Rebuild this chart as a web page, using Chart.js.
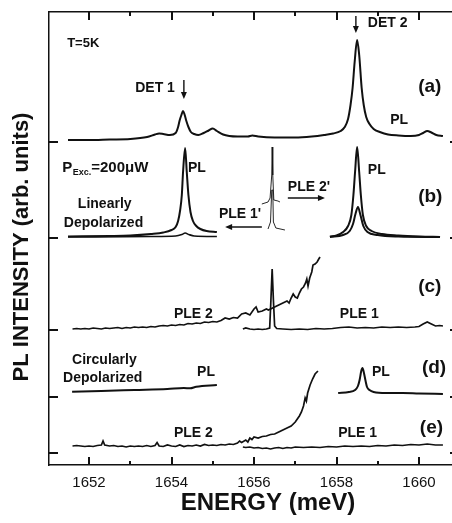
<!DOCTYPE html>
<html><head><meta charset="utf-8">
<script src="https://cdn.jsdelivr.net/npm/chart.js@4.4.1/dist/chart.umd.min.js"></script>
<style>html,body{margin:0;padding:0;background:#fff}#wrap{width:452px;height:523px}</style>
</head><body><div id="wrap"><canvas id="c" width="452" height="523"></canvas></div>
<script>
// ---------- axis ----------
const xTickLabels = [1652, 1654, 1656, 1658, 1660];
const xMinorTicks = [1653, 1655, 1657, 1659];
const xTitle = 'ENERGY (meV)';
const yTitle = 'PL INTENSITY (arb. units)';
// vertical offset (arb. units) of each stacked panel a..e
const panelOffsets = [323, 227, 135, 68, 12];

// ---------- (a) PL ----------
const aPL_E = [1651.49,1652.0,1652.5,1653.0,1653.41,1653.6,1653.7,1653.8,1653.96,1654.1,1654.16,1654.2,1654.24,1654.28,1654.32,1654.36,1654.41,1654.47,1654.55,1654.65,1654.78,1654.9,1655.0,1655.1,1655.25,1655.4,1655.6,1655.85,1655.96,1656.1,1656.5,1657.0,1657.4,1657.7,1657.92,1658.1,1658.2,1658.28,1658.34,1658.39,1658.44,1658.5,1658.55,1658.61,1658.66,1658.72,1658.8,1658.9,1659.05,1659.25,1659.5,1659.8,1660.0,1660.1,1660.2,1660.3,1660.42,1660.58];
const aPL_I = [2,2,2.5,3,5,7.5,8.5,8,7,9,15,22,27,31,27,21,15,10,8,7,9,11.5,13.5,11,7.5,6,5.5,5.5,6.5,5.5,4.5,4.5,5.5,7,8.5,11,15,23,37,54,80,102,87,54,37,25,18,13,10,7.5,6.5,6,7,9,11,9.5,7,6];

// ---------- (b) linearly depolarized ----------
const bPL1_E = [1651.49,1652.5,1653.0,1653.5,1653.8,1654.0,1654.1,1654.16,1654.21,1654.25,1654.28,1654.33,1654.37,1654.41,1654.46,1654.52,1654.6,1654.7,1654.85,1655.1];
const bPL1_I = [1.5,2,2.5,4,5.5,8,11,17,28,43,66,90,66,43,26,17,12,9,7,6];
const bPLE1_E = [1651.49,1653.5,1654.1,1654.25,1654.33,1654.42,1654.55,1655.1];
const bPLE1_I = [1,1.5,2,3.5,5,3.5,2,1.5];
const bLaserA_E = [1656.19,1656.34,1656.39,1656.43,1656.44,1656.455,1656.48,1656.58,1656.63];
const bLaserA_I = [34,36,40,63,91,63,38,37,36];
const bLaserB_E = [1656.34,1656.40,1656.43,1656.455,1656.47,1656.53,1656.75];
const bLaserB_I = [9,16,48,48,16,10,8];
const bPL2_E = [1657.84,1658.0,1658.16,1658.28,1658.36,1658.41,1658.45,1658.5,1658.55,1658.59,1658.64,1658.72,1658.85,1659.1,1659.5,1660.0,1660.51];
const bPL2_I = [1.5,2.5,6,12,23,43,66,91,66,43,23,12,7,4,2.5,1.5,1];
const bPLE2_E = [1657.84,1658.16,1658.32,1658.4,1658.46,1658.52,1658.58,1658.65,1658.75,1659.0,1659.5,1660.51];
const bPLE2_I = [1,3,7,14,24,31,23,12,6,3,1.5,1];

// ---------- (c) PLE ----------
const cPLE2_E = [1651.6,1651.7,1651.8,1651.9,1652.0,1652.1,1652.2,1652.3,1652.4,1652.5,1652.6,1652.7,1652.8,1652.9,1653.0,1653.1,1653.2,1653.3,1653.4,1653.5,1653.6,1653.7,1653.8,1653.9,1654.0,1654.1,1654.2,1654.3,1654.4,1654.5,1654.6,1654.7,1654.8,1654.9,1655.0,1655.1,1655.2,1655.3,1655.4,1655.5,1655.6,1655.7,1655.8,1655.9,1656.0,1656.05,1656.1,1656.2,1656.3,1656.35,1656.5,1656.6,1656.7,1656.8,1656.85,1656.9,1656.95,1657.0,1657.05,1657.1,1657.15,1657.2,1657.25,1657.28,1657.31,1657.35,1657.4,1657.43,1657.48,1657.53,1657.57,1657.6];
const cPLE2_I = [1,1.5,1,1.5,1,2,1.5,1,2,1.5,2,2.5,1.5,2.5,2,3,2.5,3,2.5,3.5,3,4,4.5,4,5,4.5,5.5,5,6.5,6,7,6.5,8,7.5,8.5,8,9.5,12,11,12.5,12,16,17,15,21,23,18,19,21,20,23,25,27,29,27,32,36,33,32,37,41,43,47,51,44,52,58,65,66,68,71,73];
const cPLE1_E = [1655.73,1655.8,1655.9,1656.0,1656.1,1656.2,1656.3,1656.38,1656.41,1656.44,1656.47,1656.5,1656.55,1656.7,1656.9,1657.1,1657.3,1657.5,1657.7,1657.9,1658.1,1658.3,1658.5,1658.7,1658.9,1659.1,1659.3,1659.5,1659.7,1659.9,1660.0,1660.1,1660.2,1660.3,1660.4,1660.5,1660.58];
const cPLE1_I = [1,2,1,0.5,1,0.5,1,2,30,61,30,4,1.5,1,0.5,1,0.5,1.5,1,1.5,2.5,3,2,2.5,2,3,2.5,3,2.5,3,3.5,6,8,6,4,4.5,4];

// ---------- (d) circularly depolarized ----------
const dPL1_E = [1651.59,1652.3,1653.1,1653.9,1654.3,1654.45,1654.6,1655.1];
const dPL1_I = [5.3,6,7,8,9,8.7,10.3,12];
const dPL2_E = [1658.04,1658.3,1658.45,1658.52,1658.56,1658.6,1658.63,1658.66,1658.7,1658.74,1658.8,1658.9,1659.2,1659.6,1660.0,1660.58];
const dPL2_I = [4,5,7,11,17,26,29,25,17,10,7,5,4,4,3.5,3];

// ---------- (e) PLE ----------
const ePLE2_E = [1651.6,1651.7,1651.8,1651.9,1652.0,1652.1,1652.2,1652.3,1652.34,1652.38,1652.5,1652.6,1652.7,1652.8,1652.9,1653.0,1653.1,1653.2,1653.3,1653.4,1653.5,1653.6,1653.65,1653.7,1653.8,1653.9,1654.0,1654.1,1654.2,1654.3,1654.4,1654.5,1654.6,1654.7,1654.8,1654.9,1655.0,1655.1,1655.2,1655.3,1655.4,1655.5,1655.6,1655.65,1655.7,1655.8,1655.85,1655.9,1655.95,1656.0,1656.1,1656.2,1656.3,1656.4,1656.5,1656.6,1656.7,1656.8,1656.9,1657.0,1657.05,1657.1,1657.15,1657.2,1657.24,1657.27,1657.3,1657.36,1657.42,1657.48,1657.55];
const ePLE2_I = [7,7.5,7,6.5,7,6.5,7.5,8,12,8,7,7.5,6.5,7,6,7,6.5,7,6.5,7.5,6.5,7.5,10.5,7,6.5,8,7,6.5,8,6.5,7.5,7,8,7,8.5,7.5,8,7.5,8.5,8,9,8.5,10,12,10.5,13,11,15,13.5,16,15,16.5,17,18.5,19,21,23,25,27,31,34,37,41,47,55,52,60,68,74,79,82];
const ePLE1_E = [1655.73,1655.8,1655.9,1656.0,1656.1,1656.2,1656.3,1656.4,1656.5,1656.6,1656.7,1656.8,1656.9,1657.0,1657.2,1657.4,1657.6,1657.8,1658.0,1658.2,1658.4,1658.6,1658.8,1659.0,1659.2,1659.4,1659.6,1659.8,1660.0,1660.2,1660.4,1660.58];
const ePLE1_I = [6,5.5,6,5,5.5,4.5,5,4,5,5.5,4.5,5.5,5,6,5.5,6,5.5,6.5,6,7,6.5,7,6.5,7.5,7,8,7.5,8.5,8,9,8,8];

// ---------- text annotations (energy, arb. units) ----------
const notes = [
  {t:'T=5K', x:1651.47, y:422, s:13},
  {t:'DET 1', x:1653.12, y:377, s:14},
  {t:'DET 2', x:1658.76, y:442, s:14},
  {t:'(a)', x:1659.98, y:378, s:19},
  {t:'PL', x:1659.30, y:345, s:14},
  {t:'PL', x:1654.40, y:297, s:14},
  {t:'PL', x:1658.76, y:295, s:14},
  {t:"PLE 2'", x:1656.82, y:278, s:14},
  {t:'(b)', x:1659.98, y:268, s:19},
  {t:'Linearly', x:1651.73, y:261, s:14},
  {t:'Depolarized', x:1651.39, y:242, s:14},
  {t:"PLE 1'", x:1655.15, y:251, s:14},
  {t:'(c)', x:1659.98, y:178, s:19},
  {t:'PLE 2', x:1654.06, y:151, s:14},
  {t:'PLE 1', x:1658.08, y:151, s:14},
  {t:'Circularly', x:1651.59, y:105, s:14},
  {t:'Depolarized', x:1651.37, y:87, s:14},
  {t:'PL', x:1654.62, y:93, s:14},
  {t:'PL', x:1658.86, y:93, s:14},
  {t:'(d)', x:1660.07, y:97, s:19},
  {t:'PLE 2', x:1654.06, y:32, s:14},
  {t:'PLE 1', x:1658.04, y:32, s:14},
  {t:'(e)', x:1660.02, y:37, s:19}
];
// arrows: from (x1,y1) to (x2,y2) in energy / arb. units
const arrows = [
  {x1:1654.30, y1:385, x2:1654.30, y2:366},
  {x1:1658.47, y1:449, x2:1658.47, y2:432},
  {x1:1656.82, y1:267, x2:1657.72, y2:267},
  {x1:1656.19, y1:238, x2:1655.30, y2:238}
];
const pExc = {x:1651.35, y:297};

const FONT = "'Liberation Sans', Arial, Helvetica, sans-serif";
const INK = '#111';

function series(E, I, off, opts) {
  return Object.assign({
    data: E.map((e, k) => ({x: e, y: off + I[k]})),
    xAxisID: 'x', yAxisID: 'y',
    borderColor: INK, borderWidth: 2, pointRadius: 0,
    tension: 0, fill: false
  }, opts || {});
}
const smooth = {cubicInterpolationMode: 'monotone'};
const noisy = {borderWidth: 1.7};
const datasets = [
  series(aPL_E, aPL_I, panelOffsets[0], smooth),
  series(bPL1_E, bPL1_I, panelOffsets[1], smooth),
  series(bPLE1_E, bPLE1_I, panelOffsets[1], Object.assign({borderWidth:1.6}, smooth)),
  series(bLaserA_E, bLaserA_I, panelOffsets[1], {borderWidth: 0.9}),
  series(bLaserB_E, bLaserB_I, panelOffsets[1], {borderWidth: 0.9}),
  series(bPL2_E, bPL2_I, panelOffsets[1], smooth),
  series(bPLE2_E, bPLE2_I, panelOffsets[1], smooth),
  series(cPLE2_E, cPLE2_I, panelOffsets[2], noisy),
  series(cPLE1_E, cPLE1_I, panelOffsets[2], noisy),
  series(dPL1_E, dPL1_I, panelOffsets[3], smooth),
  series(dPL2_E, dPL2_I, panelOffsets[3], smooth),
  series(ePLE2_E, ePLE2_I, panelOffsets[4], noisy),
  series(ePLE1_E, ePLE1_I, panelOffsets[4], noisy)
];

const decor = {
  id: 'decor',
  afterDraw(chart) {
    const {ctx, chartArea: a, scales} = chart;
    const x = scales.x, y = scales.y;
    ctx.save();
    ctx.fillStyle = INK; ctx.strokeStyle = INK;
    // inward tick marks
    xTickLabels.forEach(v => { const p = Math.round(x.getPixelForValue(v));
      ctx.fillRect(p - 1, a.bottom - 8, 2, 8);
      ctx.fillRect(p - 1, a.top, 2, 8); });
    xMinorTicks.forEach(v => { const p = Math.round(x.getPixelForValue(v));
      ctx.fillRect(p - 1, a.bottom - 4, 2, 4);
      ctx.fillRect(p - 1, a.top, 2, 4); });
    panelOffsets.forEach(v => { const p = Math.round(y.getPixelForValue(v));
      ctx.fillRect(a.left, p - 1, 9, 2);
      ctx.fillRect(a.right - 2, p - 1, 2, 2); });
    // arrows
    arrows.forEach(r => {
      const x1 = x.getPixelForValue(r.x1), y1 = y.getPixelForValue(r.y1);
      const x2 = x.getPixelForValue(r.x2), y2 = y.getPixelForValue(r.y2);
      const ang = Math.atan2(y2 - y1, x2 - x1), L = 7, W = 3;
      ctx.lineWidth = 1.4;
      ctx.beginPath(); ctx.moveTo(x1, y1);
      ctx.lineTo(x2 - L * 0.6 * Math.cos(ang), y2 - L * 0.6 * Math.sin(ang)); ctx.stroke();
      ctx.beginPath(); ctx.moveTo(x2, y2);
      ctx.lineTo(x2 - L * Math.cos(ang) - W * Math.sin(ang), y2 - L * Math.sin(ang) + W * Math.cos(ang));
      ctx.lineTo(x2 - L * Math.cos(ang) + W * Math.sin(ang), y2 - L * Math.sin(ang) - W * Math.cos(ang));
      ctx.closePath(); ctx.fill();
    });
    // annotations
    ctx.textBaseline = 'middle'; ctx.textAlign = 'left';
    notes.forEach(n => {
      ctx.font = 'bold ' + n.s + 'px ' + FONT;
      ctx.fillText(n.t, x.getPixelForValue(n.x), y.getPixelForValue(n.y));
    });
    // P_Exc.=200µW
    let px = x.getPixelForValue(pExc.x), py = y.getPixelForValue(pExc.y);
    ctx.font = 'bold 15px ' + FONT; ctx.fillText('P', px, py); px += ctx.measureText('P').width + 0.5;
    ctx.font = 'bold 9px ' + FONT; ctx.fillText('Exc.', px, py + 5); px += ctx.measureText('Exc.').width;
    ctx.font = 'bold 15px ' + FONT; ctx.fillText('=200\u03BCW', px, py);
    // axis titles
    ctx.font = 'bold 24px ' + FONT; ctx.textAlign = 'center';
    ctx.fillText(xTitle, 268, 503);
    ctx.save(); ctx.translate(22, 247); ctx.rotate(-Math.PI / 2);
    ctx.font = 'bold 22px ' + FONT; ctx.fillText(yTitle, 0, 0); ctx.restore();
    ctx.restore();
  }
};

new Chart(document.getElementById('c'), {
  type: 'line',
  data: {datasets},
  options: {
    responsive: false, animation: false, devicePixelRatio: 1,
    layout: {padding: 0},
    plugins: {legend: {display: false}, tooltip: {enabled: false}},
    scales: {
      x: {type: 'linear', position: 'bottom', min: 1651.03, max: 1660.8,
        afterBuildTicks: s => { s.ticks = xTickLabels.map(v => ({value: v})); },
        ticks: {color: INK, padding: 9, maxRotation: 0, autoSkip: false,
          font: {family: FONT, size: 15},
          callback: v => String(v)},
        grid: {display: false, drawTicks: false},
        border: {display: true, color: INK, width: 1.5},
        afterFit: s => { s.height = 58; }},
      x2: {type: 'linear', position: 'top', min: 1651.03, max: 1660.8,
        ticks: {display: false}, grid: {display: false, drawTicks: false},
        border: {display: true, color: INK, width: 1.5},
        afterFit: s => { s.height = 12; }},
      y: {type: 'linear', min: 0, max: 453,
        ticks: {display: false}, grid: {display: false, drawTicks: false},
        border: {display: true, color: INK, width: 1.5},
        afterFit: s => { s.width = 49; }}
    }
  },
  plugins: [decor]
});
</script>
</body></html>
